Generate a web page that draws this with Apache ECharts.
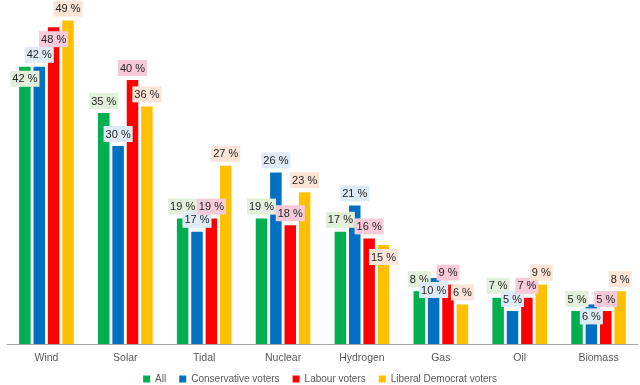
<!DOCTYPE html>
<html><head><meta charset="utf-8">
<script src="https://cdn.jsdelivr.net/npm/echarts@6/dist/echarts.min.js"></script>
<style>html,body{margin:0;padding:0;background:#fff}#c{width:640px;height:385px}</style>
</head><body><div id="c"></div>
<script>
const categories = ['Wind','Solar','Tidal','Nuclear','Hydrogen','Gas','Oil','Biomass'];
const seriesNames = ['All','Conservative voters','Labour voters','Liberal Democrat voters'];
const allVoters = [42,35,19,19,17,8,7,5];
const conservative = [42,30,17,26,21,10,5,6];
const labour = [48,40,19,18,16,9,7,5];
const libdem = [49,36,27,23,15,6,9,8];

const values = [allVoters, conservative, labour, libdem];
const colors = ['#00b050','#0070c0','#ff0000','#ffc000'];
const labelBg = ['#e2efda','#deebf7','#f6cad8','#fbe5d6'];
// labels that sit inside the bar top (series index, category index)
const inside = {'0-0':1,'2-0':1,'3-4':1,'1-5':1,'1-7':1};

const chart = echarts.init(document.getElementById('c'), null, {renderer:'canvas'});
chart.setOption({
  animation:false,
  textStyle:{fontFamily:'Liberation Sans, Arial, sans-serif'},
  grid:{left:7, right:2, top:14, bottom:41},
  legend:{
    data:seriesNames, top:369, left:'center', itemWidth:7, itemHeight:7, itemGap:13,
    icon:'rect', textStyle:{color:'#595959', fontSize:10}
  },
  xAxis:{
    type:'category', data:categories,
    axisLine:{lineStyle:{color:'#a6a6a6', width:1}},
    axisTick:{show:false},
    axisLabel:{color:'#595959', fontSize:10.5, margin:9}
  },
  yAxis:{type:'value', min:0, max:50, show:false, splitLine:{show:false}},
  series: seriesNames.map((name,si)=>({
    name, type:'bar', barWidth:11.5, barGap:'25%',
    itemStyle:{color:colors[si]},
    data: values[si].map((v,ci)=>{
      const ins = inside[si+'-'+ci];
      return {value:v, label:{position: ins?'insideTop':'top', distance:4}};
    }),
    label:{
      show:true, formatter:'{c} %', color:'#262626', fontSize:11,
      backgroundColor:labelBg[si], padding:[3,2,2,2]
    }
  }))
});
</script></body></html>
